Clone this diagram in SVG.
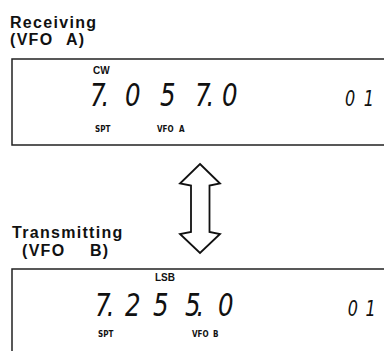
<svg xmlns="http://www.w3.org/2000/svg" width="384" height="351" viewBox="0 0 384 351">
<style>
.title{font-family:"Liberation Sans","Arial",sans-serif;font-weight:bold;font-size:16px;letter-spacing:1.3px;fill:#111}
.frame{fill:none;stroke:#222;stroke-width:1.5}
.seg{font-family:"DejaVu Sans Condensed","DejaVu Sans",sans-serif;font-style:oblique;font-size:32px;fill:#111}
.segs{font-family:"DejaVu Sans Condensed","DejaVu Sans",sans-serif;font-style:oblique;font-size:21px;fill:#111}
.mode{font-family:"Liberation Sans","Arial",sans-serif;font-weight:bold;font-size:10px;fill:#111}
.ind{font-family:"DejaVu Sans Condensed","Liberation Sans",sans-serif;font-weight:bold;font-size:8px;fill:#111}
.arrow{fill:#fff;stroke:#111;stroke-width:1.8;stroke-linejoin:miter}
</style>
<g id="label-receiving">
<text class="title" x="10" y="28">Receiving</text>
<text class="title" x="10" y="45">(VFO<tspan x="66">A)</tspan></text>
</g>
<g id="display-a">
<path class="frame" d="M384,59 H12 V145 H384"/>
<text class="mode" x="93" y="74">CW</text>
<g transform="scale(0.85,1)">
<text class="seg" x="105.9 119.5 147.1 188.2 229.4 243 261.2" y="106">7.057.0</text>
<text class="segs" x="406 428" y="106">01</text>
</g>
<text class="ind" x="95" y="132">SPT</text>
<text class="ind" x="157" y="132">VFO<tspan x="179">A</tspan></text>
</g>
<g id="connectors">
<path class="arrow" d="M200,164 L220,183.5 L209.5,185.5 V232 L220,234 L200,253 L180,234 L191,232 V185.5 L180,183.5 Z"/>
</g>
<g id="label-transmitting">
<text class="title" x="12" y="238">Transmitting</text>
<text class="title" x="22" y="256">(VFO<tspan x="90">B)</tspan></text>
</g>
<g id="display-b">
<path class="frame" d="M384,269 H12 V351"/>
<text class="mode" x="155" y="281">LSB</text>
<g transform="scale(0.85,1)">
<text class="seg" x="111.8 125.5 147.1 180 217.6 231.2 256.5" y="316">7.255.0</text>
<text class="segs" x="409 430" y="316">01</text>
</g>
<text class="ind" x="98" y="337">SPT</text>
<text class="ind" x="192" y="337">VFO<tspan x="213">B</tspan></text>
</g>
</svg>
